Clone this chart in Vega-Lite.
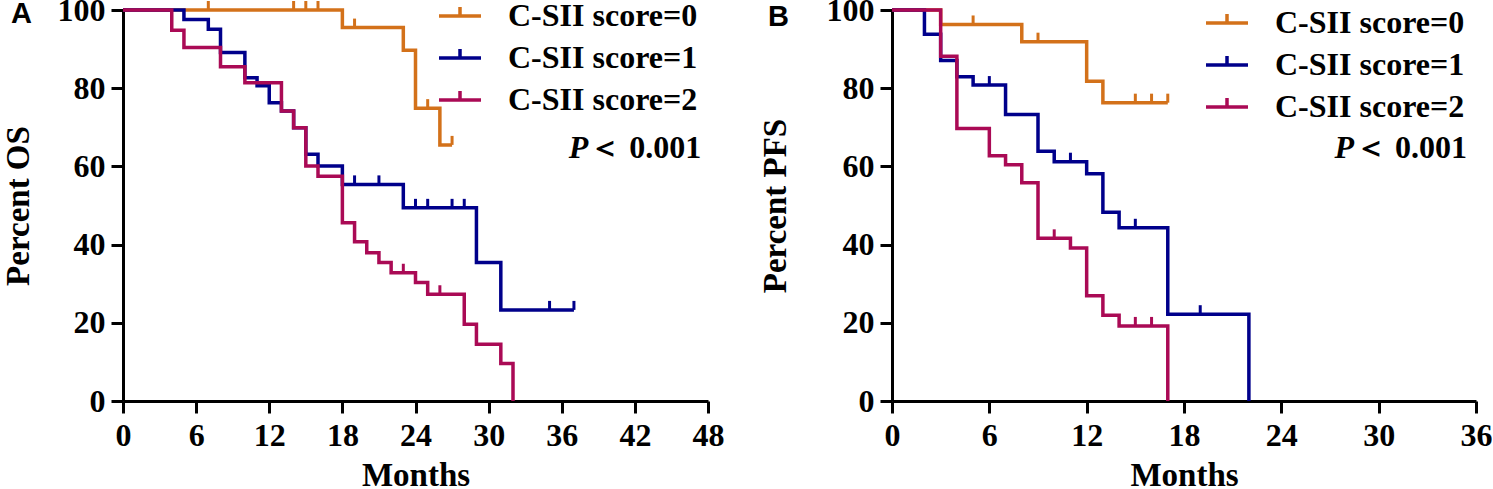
{
  "$schema": "https://vega.github.io/schema/vega-lite/v6.json",
  "background": "white",
  "padding": {"left": 2, "top": -7, "right": 0, "bottom": 0},
  "spacing": 35,
  "config": {
    "view": {"stroke": null},
    "axis": {
      "grid": false,
      "domainColor": "black",
      "domainWidth": 3,
      "tickColor": "black",
      "tickWidth": 3,
      "tickSize": 12,
      "labelFont": "Liberation Serif",
      "labelFontWeight": "bold",
      "labelFontSize": 32,
      "labelColor": "black",
      "labelOverlap": false,
      "labelFlush": false,
      "labelPadding": 6,
      "titleFont": "Liberation Serif",
      "titleFontWeight": "bold",
      "titleFontSize": 33,
      "titleColor": "black"
    },
    "axisX": {"labelPadding": 7, "titlePadding": 8},
    "legend": {
      "orient": "none",
      "padding": 0,
      "rowPadding": 3,
      "title": null,
      "labelFont": "Liberation Serif",
      "labelFontWeight": "bold",
      "labelFontSize": 32,
      "labelColor": "black",
      "labelOffset": 25,
      "labelLimit": 400,
      "symbolType": "M-1,0H1M0,0V-0.43",
      "symbolSize": 1764,
      "symbolStrokeWidth": 3.5
    }
  },
  "datasets": {
    "osCurve": [
      {"group": "C-SII score=0", "month": 0, "pct": 100},
      {"group": "C-SII score=0", "month": 18, "pct": 95.5},
      {"group": "C-SII score=0", "month": 23, "pct": 89.7},
      {"group": "C-SII score=0", "month": 24, "pct": 74.9},
      {"group": "C-SII score=0", "month": 26, "pct": 65.5},
      {"group": "C-SII score=0", "month": 27, "pct": 65.5},
      {"group": "C-SII score=1", "month": 0, "pct": 100},
      {"group": "C-SII score=1", "month": 5, "pct": 97.6},
      {"group": "C-SII score=1", "month": 7, "pct": 95.1},
      {"group": "C-SII score=1", "month": 8, "pct": 89.1},
      {"group": "C-SII score=1", "month": 10, "pct": 82.7},
      {"group": "C-SII score=1", "month": 11, "pct": 80.6},
      {"group": "C-SII score=1", "month": 12, "pct": 76.3},
      {"group": "C-SII score=1", "month": 13, "pct": 74.2},
      {"group": "C-SII score=1", "month": 14, "pct": 69.9},
      {"group": "C-SII score=1", "month": 15, "pct": 63.1},
      {"group": "C-SII score=1", "month": 16, "pct": 60.1},
      {"group": "C-SII score=1", "month": 18, "pct": 55.4},
      {"group": "C-SII score=1", "month": 23, "pct": 49.4},
      {"group": "C-SII score=1", "month": 29, "pct": 35.4},
      {"group": "C-SII score=1", "month": 31, "pct": 23.3},
      {"group": "C-SII score=1", "month": 37, "pct": 23.3},
      {"group": "C-SII score=2", "month": 0, "pct": 100},
      {"group": "C-SII score=2", "month": 4, "pct": 94.8},
      {"group": "C-SII score=2", "month": 5, "pct": 90.4},
      {"group": "C-SII score=2", "month": 8, "pct": 85.5},
      {"group": "C-SII score=2", "month": 10, "pct": 81.4},
      {"group": "C-SII score=2", "month": 13, "pct": 74.2},
      {"group": "C-SII score=2", "month": 14, "pct": 69.9},
      {"group": "C-SII score=2", "month": 15, "pct": 60.1},
      {"group": "C-SII score=2", "month": 16, "pct": 57.5},
      {"group": "C-SII score=2", "month": 18, "pct": 45.6},
      {"group": "C-SII score=2", "month": 19, "pct": 40.7},
      {"group": "C-SII score=2", "month": 20, "pct": 37.9},
      {"group": "C-SII score=2", "month": 21, "pct": 35.4},
      {"group": "C-SII score=2", "month": 22, "pct": 32.8},
      {"group": "C-SII score=2", "month": 24, "pct": 30.3},
      {"group": "C-SII score=2", "month": 25, "pct": 27.3},
      {"group": "C-SII score=2", "month": 28, "pct": 19.6},
      {"group": "C-SII score=2", "month": 29, "pct": 14.5},
      {"group": "C-SII score=2", "month": 31, "pct": 9.6},
      {"group": "C-SII score=2", "month": 32, "pct": 0}
    ],
    "osCensor": [
      {"group": "C-SII score=0", "month": 7, "pct": 100},
      {"group": "C-SII score=0", "month": 14, "pct": 100},
      {"group": "C-SII score=0", "month": 15, "pct": 100},
      {"group": "C-SII score=0", "month": 16, "pct": 100},
      {"group": "C-SII score=0", "month": 19, "pct": 95.5},
      {"group": "C-SII score=0", "month": 25, "pct": 74.9},
      {"group": "C-SII score=0", "month": 27, "pct": 65.5},
      {"group": "C-SII score=1", "month": 19, "pct": 55.4},
      {"group": "C-SII score=1", "month": 21, "pct": 55.4},
      {"group": "C-SII score=1", "month": 24, "pct": 49.4},
      {"group": "C-SII score=1", "month": 25, "pct": 49.4},
      {"group": "C-SII score=1", "month": 27, "pct": 49.4},
      {"group": "C-SII score=1", "month": 28, "pct": 49.4},
      {"group": "C-SII score=1", "month": 35, "pct": 23.3},
      {"group": "C-SII score=1", "month": 37, "pct": 23.3},
      {"group": "C-SII score=2", "month": 23, "pct": 32.8},
      {"group": "C-SII score=2", "month": 26, "pct": 27.3}
    ],
    "pfsCurve": [
      {"group": "C-SII score=0", "month": 0, "pct": 100},
      {"group": "C-SII score=0", "month": 3, "pct": 96.3},
      {"group": "C-SII score=0", "month": 8, "pct": 91.9},
      {"group": "C-SII score=0", "month": 12, "pct": 81.8},
      {"group": "C-SII score=0", "month": 13, "pct": 76.3},
      {"group": "C-SII score=0", "month": 17, "pct": 76.3},
      {"group": "C-SII score=1", "month": 0, "pct": 100},
      {"group": "C-SII score=1", "month": 2, "pct": 93.8},
      {"group": "C-SII score=1", "month": 3, "pct": 87.1},
      {"group": "C-SII score=1", "month": 4, "pct": 82.9},
      {"group": "C-SII score=1", "month": 5, "pct": 80.8},
      {"group": "C-SII score=1", "month": 7, "pct": 73.3},
      {"group": "C-SII score=1", "month": 9, "pct": 63.9},
      {"group": "C-SII score=1", "month": 10, "pct": 61.2},
      {"group": "C-SII score=1", "month": 12, "pct": 58.1},
      {"group": "C-SII score=1", "month": 13, "pct": 48.3},
      {"group": "C-SII score=1", "month": 14, "pct": 44.3},
      {"group": "C-SII score=1", "month": 17, "pct": 22.2},
      {"group": "C-SII score=1", "month": 22, "pct": 0},
      {"group": "C-SII score=2", "month": 0, "pct": 100},
      {"group": "C-SII score=2", "month": 3, "pct": 88.2},
      {"group": "C-SII score=2", "month": 4, "pct": 69.7},
      {"group": "C-SII score=2", "month": 6, "pct": 62.7},
      {"group": "C-SII score=2", "month": 7, "pct": 60.4},
      {"group": "C-SII score=2", "month": 8, "pct": 55.8},
      {"group": "C-SII score=2", "month": 9, "pct": 41.6},
      {"group": "C-SII score=2", "month": 11, "pct": 39.1},
      {"group": "C-SII score=2", "month": 12, "pct": 26.9},
      {"group": "C-SII score=2", "month": 13, "pct": 21.9},
      {"group": "C-SII score=2", "month": 14, "pct": 19.2},
      {"group": "C-SII score=2", "month": 17, "pct": 0}
    ],
    "pfsCensor": [
      {"group": "C-SII score=0", "month": 5, "pct": 96.3},
      {"group": "C-SII score=0", "month": 9, "pct": 91.9},
      {"group": "C-SII score=0", "month": 15, "pct": 76.3},
      {"group": "C-SII score=0", "month": 16, "pct": 76.3},
      {"group": "C-SII score=0", "month": 17, "pct": 76.3},
      {"group": "C-SII score=1", "month": 6, "pct": 80.8},
      {"group": "C-SII score=1", "month": 11, "pct": 61.2},
      {"group": "C-SII score=1", "month": 15, "pct": 44.3},
      {"group": "C-SII score=1", "month": 19, "pct": 22.2},
      {"group": "C-SII score=2", "month": 10, "pct": 41.6},
      {"group": "C-SII score=2", "month": 15, "pct": 19.2},
      {"group": "C-SII score=2", "month": 16, "pct": 19.2}
    ]
  },
  "hconcat": [
    {
      "width": 585,
      "height": 391,
      "title": {"text": "A", "anchor": "start", "frame": "bounds", "font": "Liberation Sans", "fontSize": 29, "fontWeight": "bold", "color": "black", "offset": 0, "dx": 9, "dy": 36},
      "layer": [
        {
          "data": {"name": "osCurve"},
          "mark": {"type": "line", "interpolate": "step-after", "strokeWidth": 3.5},
          "encoding": {
            "x": {"field": "month", "type": "quantitative", "title": "Months",
                  "scale": {"domain": [0, 48], "nice": false},
                  "axis": {"values": [0, 6, 12, 18, 24, 30, 36, 42, 48]}},
            "y": {"field": "pct", "type": "quantitative", "title": "Percent OS",
                  "scale": {"domain": [0, 100], "nice": false},
                  "axis": {"values": [0, 20, 40, 60, 80, 100], "titlePadding": 22}},
            "color": {"field": "group", "type": "nominal",
                      "scale": {"domain": ["C-SII score=0", "C-SII score=1", "C-SII score=2"],
                                "range": ["#D3711A", "#00008B", "#AA0A55"]},
                      "legend": {"legendX": 314, "legendY": -17}}
          }
        },
        {
          "data": {"name": "osCensor"},
          "mark": {"type": "point", "shape": "M0,0V-1", "size": 324, "strokeWidth": 3, "filled": false, "opacity": 1},
          "encoding": {
            "x": {"field": "month", "type": "quantitative", "title": "Months"},
            "y": {"field": "pct", "type": "quantitative", "title": "Percent OS"},
            "color": {"field": "group", "type": "nominal"}
          }
        },
        {
          "data": {"values": [{"label": "＜ 0.001"}]},
          "mark": {"type": "text", "align": "right", "font": "Liberation Serif", "fontWeight": "bold", "fontSize": 32, "color": "black"},
          "encoding": {
            "x": {"datum": 47.45, "type": "quantitative", "title": "Months"},
            "y": {"datum": 64.8, "type": "quantitative", "title": "Percent OS"},
            "text": {"field": "label"}
          }
        },
        {
          "data": {"values": [{"label": "P"}]},
          "mark": {"type": "text", "align": "right", "dx": -113, "font": "Liberation Serif", "fontWeight": "bold", "fontStyle": "italic", "fontSize": 32, "color": "black"},
          "encoding": {
            "x": {"datum": 47.45, "type": "quantitative", "title": "Months"},
            "y": {"datum": 64.8, "type": "quantitative", "title": "Percent OS"},
            "text": {"field": "label"}
          }
        }
      ]
    },
    {
      "width": 584,
      "height": 391,
      "title": {"text": "B", "anchor": "start", "frame": "bounds", "font": "Liberation Sans", "fontSize": 29, "fontWeight": "bold", "color": "black", "offset": 0, "dx": 9, "dy": 38},
      "layer": [
        {
          "data": {"name": "pfsCurve"},
          "mark": {"type": "line", "interpolate": "step-after", "strokeWidth": 3.5},
          "encoding": {
            "x": {"field": "month", "type": "quantitative", "title": "Months",
                  "scale": {"domain": [0, 36], "nice": false},
                  "axis": {"values": [0, 6, 12, 18, 24, 30, 36]}},
            "y": {"field": "pct", "type": "quantitative", "title": "Percent PFS",
                  "scale": {"domain": [0, 100], "nice": false},
                  "axis": {"values": [0, 20, 40, 60, 80, 100], "titlePadding": 34}},
            "color": {"field": "group", "type": "nominal",
                      "scale": {"domain": ["C-SII score=0", "C-SII score=1", "C-SII score=2"],
                                "range": ["#D3711A", "#00008B", "#AA0A55"]},
                      "legend": {"legendX": 312, "legendY": -10}}
          }
        },
        {
          "data": {"name": "pfsCensor"},
          "mark": {"type": "point", "shape": "M0,0V-1", "size": 324, "strokeWidth": 3, "filled": false, "opacity": 1},
          "encoding": {
            "x": {"field": "month", "type": "quantitative", "title": "Months"},
            "y": {"field": "pct", "type": "quantitative", "title": "Percent PFS"},
            "color": {"field": "group", "type": "nominal"}
          }
        },
        {
          "data": {"values": [{"label": "＜ 0.001"}]},
          "mark": {"type": "text", "align": "right", "font": "Liberation Serif", "fontWeight": "bold", "fontSize": 32, "color": "black"},
          "encoding": {
            "x": {"datum": 35.45, "type": "quantitative", "title": "Months"},
            "y": {"datum": 64.8, "type": "quantitative", "title": "Percent PFS"},
            "text": {"field": "label"}
          }
        },
        {
          "data": {"values": [{"label": "P"}]},
          "mark": {"type": "text", "align": "right", "dx": -113, "font": "Liberation Serif", "fontWeight": "bold", "fontStyle": "italic", "fontSize": 32, "color": "black"},
          "encoding": {
            "x": {"datum": 35.45, "type": "quantitative", "title": "Months"},
            "y": {"datum": 64.8, "type": "quantitative", "title": "Percent PFS"},
            "text": {"field": "label"}
          }
        }
      ]
    }
  ],
  "resolve": {"scale": {"color": "independent"}, "legend": {"color": "independent"}}
}
